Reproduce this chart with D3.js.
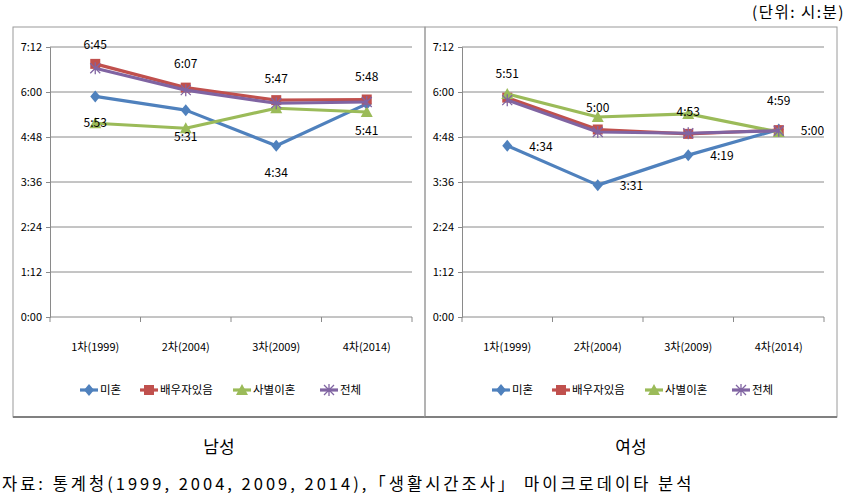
<!DOCTYPE html>
<html>
<head>
<meta charset="utf-8">
<script src="https://cdn.jsdelivr.net/npm/d3@7"></script>
<style>
body { margin: 0; background: #fff; }
svg text { font-family: "Liberation Sans Narrow", "Noto Sans CJK KR", sans-serif; fill: #000; }
.big { font-family: "Noto Sans CJK KR", sans-serif !important; }
</style>
</head>
<body>
<svg id="chart" width="859" height="497"></svg>
<script>
// 조사 차수
const categories = ['1차(1999)', '2차(2004)', '3차(2009)', '4차(2014)'];
const seriesNames = ['미혼', '배우자있음', '사별이혼', '전체'];
const seriesColors = ['#4f81bd', '#c0504d', '#9bbb59', '#8064a2'];
const yTicks = [0, 72, 144, 216, 288, 360, 432]; // 분

// 남성 (분 단위)
const maleSingle = [353, 331, 274, 341];
const maleMarried = [405, 367, 347, 348];
const maleWidowed = [310, 302, 334, 328];
const maleTotal = [398, 363, 342, 344];

// 여성 (분 단위)
const femaleSingle = [274, 211, 259, 300];
const femaleMarried = [351, 300, 293, 299];
const femaleWidowed = [357, 320, 325, 296];
const femaleTotal = [347, 296, 294, 298];

// 데이터 라벨: [계열, 차수, 텍스트, dx, dy]
const maleLabels = [
    [1, 0, '6:45', 0, -19], [1, 1, '6:07', 0, -24], [1, 2, '5:47', 0, -21], [1, 3, '5:48', 0, -23],
    [0, 0, '5:53', 0, 26], [0, 1, '5:31', 0, 27], [0, 2, '4:34', 0, 27], [0, 3, '5:41', 0, 27]
];
const femaleLabels = [
    [1, 0, '5:51', 0, -24], [1, 1, '5:00', 0, -22], [1, 2, '4:53', 0, -22], [1, 3, '4:59', 0, -29],
    [0, 0, '4:34', 22, 1], [0, 1, '3:31', 22, 1], [0, 2, '4:19', 22, 1], [0, 3, '5:00', 22, 1]
];

const svg = d3.select('#chart');

function fmt(m) {
    return Math.floor(m / 60) + ':' + String(m % 60).padStart(2, '0');
}

// 마커 그리기
function drawMarker(g, i, x, y) {
    const c = seriesColors[i];
    if (i === 0) {
        g.append('path').attr('d', `M${x},${y - 6}L${x + 5},${y}L${x},${y + 6}L${x - 5},${y}Z`).attr('fill', c);
    } else if (i === 1) {
        g.append('rect').attr('x', x - 5).attr('y', y - 5).attr('width', 10).attr('height', 10).attr('fill', c);
    } else if (i === 2) {
        g.append('path').attr('d', `M${x},${y - 6}L${x + 6},${y + 5}L${x - 6},${y + 5}Z`).attr('fill', c);
    } else {
        g.append('path')
            .attr('d', `M${x - 5},${y - 5}L${x + 5},${y + 5}M${x - 5},${y + 5}L${x + 5},${y - 5}M${x},${y - 6}L${x},${y + 6}`)
            .attr('stroke', c).attr('stroke-width', 1.3).attr('fill', 'none');
    }
}

function drawPanel(left, series, labels, title) {
    const g = svg.append('g');

    // 테두리
    g.append('rect').attr('x', left).attr('y', 27).attr('width', 412).attr('height', 390)
        .attr('fill', 'none').attr('stroke', '#9a9a9a').attr('stroke-width', 1);
    g.append('line').attr('x1', left).attr('x2', left + 412).attr('y1', 417).attr('y2', 417)
        .attr('stroke', '#808080').attr('stroke-width', 2);

    const plotL = left + 37, plotR = left + 399;
    const x = d3.scaleBand().domain(categories).range([plotL, plotR]);
    const y = d3.scaleLinear().domain([0, 432]).range([317, 47]);

    // 눈금선
    g.selectAll('.grid').data(yTicks.slice(1)).enter().append('line')
        .attr('x1', plotL).attr('x2', plotR)
        .attr('y1', d => y(d)).attr('y2', d => y(d))
        .attr('stroke', '#8a8a8a').attr('stroke-width', 1);

    // y축
    const yAxis = g.append('g').attr('transform', `translate(${plotL},0)`)
        .call(d3.axisLeft(y).tickValues(yTicks).tickFormat(fmt).tickSize(4).tickPadding(4));
    yAxis.select('.domain').attr('stroke', '#8a8a8a');
    yAxis.selectAll('.tick line').attr('stroke', '#8a8a8a');
    yAxis.selectAll('text').style('font-size', '11px');

    // x축
    g.append('line').attr('x1', plotL).attr('x2', plotR).attr('y1', 317).attr('y2', 317)
        .attr('stroke', '#8a8a8a');
    const bounds = categories.map(c => x(c)).concat([plotR]);
    g.selectAll('.xtick').data(bounds).enter().append('line')
        .attr('x1', d => d).attr('x2', d => d).attr('y1', 317).attr('y2', 322)
        .attr('stroke', '#8a8a8a');
    g.selectAll('.xlab').data(categories).enter().append('text')
        .attr('x', d => x(d) + x.bandwidth() / 2).attr('y', 351)
        .attr('text-anchor', 'middle').style('font-size', '11px').text(d => d);

    // 계열 선
    const line = d3.line().x((d, i) => x(categories[i]) + x.bandwidth() / 2).y(d => y(d));
    series.forEach((vals, i) => {
        g.append('path').datum(vals).attr('d', line)
            .attr('fill', 'none').attr('stroke', seriesColors[i]).attr('stroke-width', 3.2)
            .attr('stroke-linejoin', 'round');
        vals.forEach((v, j) => drawMarker(g, i, x(categories[j]) + x.bandwidth() / 2, y(v)));
    });

    // 데이터 라벨
    labels.forEach(([s, j, t, dx, dy]) => {
        g.append('text')
            .attr('x', x(categories[j]) + x.bandwidth() / 2 + dx)
            .attr('y', y(series[s][j]) + dy)
            .attr('text-anchor', dx ? 'start' : 'middle')
            .attr('dy', '0.35em')
            .style('font-size', '12px').text(t);
    });

    // 범례
    const legendX = [left + 67, left + 127, left + 220, left + 307];
    seriesNames.forEach((n, i) => {
        const lx = legendX[i];
        g.append('line').attr('x1', lx).attr('x2', lx + 18).attr('y1', 390).attr('y2', 390)
            .attr('stroke', seriesColors[i]).attr('stroke-width', 3.2);
        drawMarker(g, i, lx + 9, 390);
        g.append('text').attr('x', lx + 20).attr('y', 390).attr('dy', '0.35em')
            .style('font-size', '11.5px').text(n);
    });

    // 제목
    svg.append('text').attr('class', 'big').attr('x', left + 206).attr('y', 453)
        .attr('text-anchor', 'middle').style('font-size', '17px').text(title);
}

drawPanel(13, [maleSingle, maleMarried, maleWidowed, maleTotal], maleLabels, '남성');
drawPanel(425, [femaleSingle, femaleMarried, femaleWidowed, femaleTotal], femaleLabels, '여성');

svg.append('text').attr('class', 'big').attr('x', 845).attr('y', 18)
    .attr('text-anchor', 'end').style('font-size', '15.5px').style('letter-spacing', '1.5px')
    .text('(단위:  시:분)');
svg.append('text').attr('class', 'big').attr('x', 2).attr('y', 490)
    .style('font-size', '16.5px').style('letter-spacing', '3px')
    .text('자료: 통계청(1999, 2004, 2009, 2014),「생활시간조사」 마이크로데이타 분석');
</script>
</body>
</html>
